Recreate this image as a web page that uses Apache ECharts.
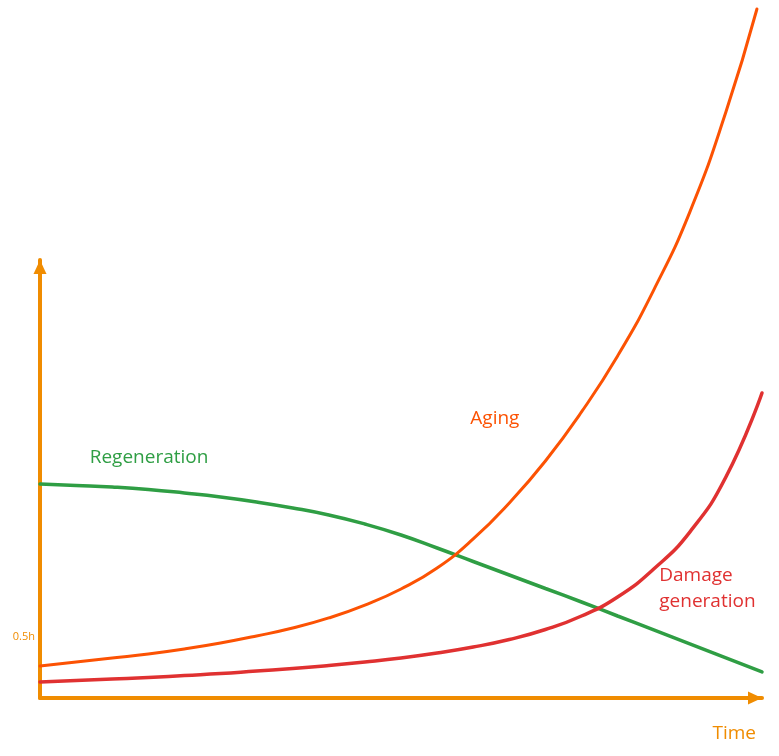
<!DOCTYPE html>
<html>
<head>
<meta charset="utf-8">
<script src="https://cdn.jsdelivr.net/npm/echarts@6/dist/echarts.min.js"></script>
<style>
html,body{margin:0;padding:0;background:#fff;}
#chart{width:779px;height:756px;}
</style>
</head>
<body>
<div id="chart"></div>
<script>
// Time (arbitrary units, 0..10) and level (arbitrary units; 0.5 = "0.5h")
const timeX = [0, 0.5, 1, 1.5, 2, 2.5, 3, 3.5, 4, 4.5, 5, 5.5, 6, 6.5, 7, 7.5, 8, 8.5, 9, 9.5, 10];
const agingX = [0, 0.5, 1, 1.5, 2, 2.5, 3, 3.5, 4, 4.5, 5, 5.5, 6, 6.5, 7, 7.5, 8, 8.5, 9, 9.5, 9.93];

const agingY = [0.263, 0.296, 0.329, 0.362, 0.403, 0.452, 0.510, 0.575, 0.658, 0.764, 0.896,
                1.068, 1.307, 1.603, 1.948, 2.351, 2.811, 3.353, 3.994, 4.816, 5.663];
const regenY = [1.759, 1.747, 1.734, 1.714, 1.685, 1.652, 1.611, 1.562, 1.504, 1.430, 1.340,
                1.233, 1.122, 1.011, 0.900, 0.789, 0.674, 0.559, 0.444, 0.329, 0.214];
const damageY = [0.132, 0.144, 0.156, 0.168, 0.185, 0.201, 0.222, 0.242, 0.267, 0.296, 0.329,
                 0.370, 0.419, 0.481, 0.563, 0.674, 0.830, 1.060, 1.364, 1.816, 2.507];

const yTickValues = [0.5];
const yTickLabels = ['0.5h'];
const xAxisName = 'Time';

const labels = {
  regeneration: { text: 'Regeneration', at: [1.51, 1.98] },
  aging: { text: 'Aging', at: [6.30, 2.30] },
  damage: { text: 'Damage\ngeneration', at: [8.57, 0.90] }
};

const AXIS = '#f08c00';
const GREEN = '#2f9e44';
const ORANGE = '#fc5203';
const RED = '#e03131';
const FONT = 'Open Sans';

const pairs = (xs, ys) => xs.map((x, i) => [x, ys[i]]);

function textPoint(lbl, color, extra) {
  return {
    symbol: 'circle',
    symbolSize: 1,
    silent: true,
    itemStyle: { color: 'rgba(0,0,0,0)' },
    data: [{
      coord: lbl.at,
      label: Object.assign({
        show: true,
        formatter: lbl.text,
        color: color,
        fontFamily: FONT,
        fontSize: 19,
        position: 'inside'
      }, extra || {})
    }]
  };
}

const chart = echarts.init(document.getElementById('chart'), null, { renderer: 'canvas' });
chart.setOption({
  backgroundColor: '#ffffff',
  animation: false,
  grid: { left: 40, right: 17, top: 260, bottom: 58, containLabel: false },
  graphic: [{
    type: 'text',
    right: 23,
    bottom: 13,
    silent: true,
    style: { text: xAxisName, fill: AXIS, font: '19px "Open Sans"' }
  }],
  xAxis: {
    type: 'value',
    min: 0,
    max: 10,
    axisLine: {
      show: true,
      onZero: false,
      symbol: ['none', 'triangle'],
      symbolSize: [13, 14],
      symbolOffset: [0, -7],
      lineStyle: { color: AXIS, width: 4, cap: 'round' }
    },
    axisTick: { show: false },
    axisLabel: { show: false },
    splitLine: { show: false }
  },
  yAxis: {
    type: 'value',
    min: 0,
    max: 3.6,
    axisLine: {
      show: true,
      onZero: false,
      symbol: ['none', 'triangle'],
      symbolSize: [13, 14],
      symbolOffset: [0, -7],
      lineStyle: { color: AXIS, width: 4, cap: 'round' }
    },
    axisTick: { show: false },
    axisLabel: {
      show: true,
      customValues: yTickValues,
      formatter: (v) => yTickLabels[yTickValues.indexOf(v)] || '',
      color: AXIS,
      fontFamily: FONT,
      fontSize: 11,
      margin: 5
    },
    splitLine: { show: false }
  },
  series: [
    {
      name: 'Regeneration',
      type: 'line',
      data: pairs(timeX, regenY),
      smooth: 0.5,
      showSymbol: false,
      clip: false,
      lineStyle: { color: GREEN, width: 3.5, cap: 'round' },
      markPoint: textPoint(labels.regeneration, GREEN)
    },
    {
      name: 'Aging',
      type: 'line',
      data: pairs(agingX, agingY),
      smooth: 0.5,
      showSymbol: false,
      clip: false,
      lineStyle: { color: ORANGE, width: 3, cap: 'round' },
      markPoint: textPoint(labels.aging, ORANGE)
    },
    {
      name: 'Damage generation',
      type: 'line',
      data: pairs(timeX, damageY),
      smooth: 0.5,
      showSymbol: false,
      clip: false,
      lineStyle: { color: RED, width: 3.5, cap: 'round' },
      markPoint: textPoint(labels.damage, RED, { position: 'right', distance: 0, align: 'left', lineHeight: 26 })
    }
  ]
});
</script>
</body>
</html>
